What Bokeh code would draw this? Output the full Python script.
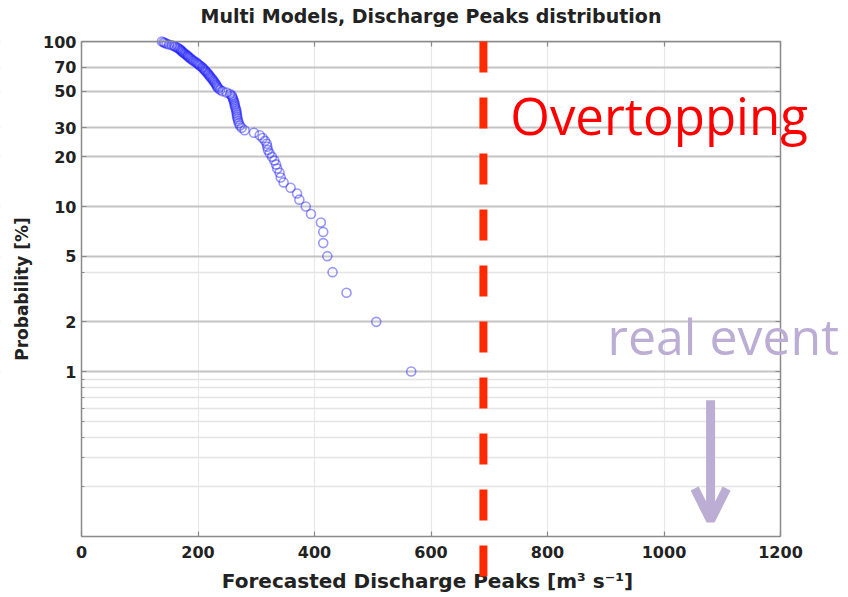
from bokeh.plotting import figure
from bokeh.models import (FixedTicker, LogAxis, LinearAxis, Arrow, OpenHead, Label,
                          Range1d, BoxAnnotation)
from bokeh.embed import file_html
from bokeh.resources import INLINE

# ---- data ----
probability = list(range(100, 0, -1))  # exceedance probability [%]
discharge = [
    138, 141, 143, 146, 150, 155, 159, 161, 164, 166,
    168, 170, 171, 173, 174, 176, 178, 180, 182, 183,
    185, 187, 189, 191, 193, 196, 198, 200, 202, 204,
    207, 208, 210, 212, 213, 215, 217, 218, 220, 221,
    223, 225, 226, 228, 229, 231, 232, 233, 235, 238,
    242, 249, 255, 258, 259, 260, 261, 262, 263, 263,
    264, 265, 266, 266, 267, 267, 268, 269, 270, 272,
    275, 280, 296, 306, 311, 315, 318, 319, 320, 323,
    327, 331, 334, 336, 340, 342, 347, 359, 370, 374,
    385, 394, 411, 415, 415, 422, 431, 455, 506, 566,
]
x_ticks = [0, 200, 400, 600, 800, 1000, 1200]
y_ticks = [1, 2, 5, 10, 20, 30, 50, 70, 100]
y_minor = [0.2, 0.3, 0.4, 0.5, 0.6, 0.7, 0.8, 0.9, 4]
x_lim = (0, 1200)
y_lim = (0.1, 100)
overtopping_q = 690
real_event_q = 1080
arrow_prob_top = 0.67
arrow_prob_tip = 0.125

title_text = "Multi Models, Discharge Peaks distribution"
x_label = "Forecasted Discharge Peaks [m\u00b3 s\u207b\u00b9]"
y_label = "Probability [%]"

# ---- geometry (pixels): the whole canvas is one frame ----
W, H = 847, 596
LEFT, TOP = 81, 41              # where x=0 and y=100 sit on the canvas
PX_PER_UNIT = 699 / 1200.0      # axis 0..1200 spans 699 px
PX_PER_DECADE = 165.0
x_start = -LEFT / PX_PER_UNIT
x_end = (W - LEFT) / PX_PER_UNIT
y_start = 10 ** (2 - (H - TOP) / PX_PER_DECADE)
y_end = 10 ** (2 + TOP / PX_PER_DECADE)

AX = "#8a8a8a"
LAV = "#bbadd3"
FONT = "DejaVu Sans"
TXT = "#222222"

p = figure(width=W, height=H, x_range=Range1d(x_start, x_end), y_range=Range1d(y_start, y_end),
           y_axis_type="log", output_backend="svg", toolbar_location=None,
           min_border_left=0, min_border_right=0, min_border_top=0, min_border_bottom=0)
p.background_fill_color = "white"
p.border_fill_color = "white"
p.outline_line_color = None

yt = FixedTicker(ticks=y_ticks, minor_ticks=y_minor)
xt = FixedTicker(ticks=x_ticks, minor_ticks=[])
p.xgrid.ticker = xt
p.ygrid.ticker = yt
p.ygrid.grid_line_color = "#c4c4c4"
p.ygrid.grid_line_width = 2
p.ygrid.minor_grid_line_color = "#e4e4e4"
p.ygrid.minor_grid_line_width = 1.5
p.xgrid.grid_line_color = "#e8e8e8"
p.xgrid.grid_line_width = 1.2


def style_axis(ax):
    ax.axis_line_color = AX
    ax.axis_line_width = 1.5
    ax.major_tick_line_color = AX
    ax.minor_tick_line_color = AX
    ax.major_tick_line_width = 1.2
    ax.major_tick_in = 5
    ax.major_tick_out = 0
    ax.minor_tick_in = 3
    ax.minor_tick_out = 0
    ax.major_label_text_font = FONT
    ax.major_label_text_font_size = "16px"
    ax.major_label_text_font_style = "bold"
    ax.major_label_text_color = TXT


# left axis (at x = 0)
ya = p.yaxis[0]
style_axis(ya)
ya.ticker = yt
ya.bounds = y_lim
ya.fixed_location = x_lim[0]
ya.major_label_standoff = 5
ya.major_label_overrides = {v: str(v) for v in y_ticks}

# bottom axis (at probability 0.1)
xa = p.xaxis[0]
style_axis(xa)
xa.ticker = xt
xa.bounds = x_lim
xa.fixed_location = y_lim[0]
xa.major_label_standoff = 9

# top and right box edges with inward ticks
top_ax = LinearAxis(ticker=xt, bounds=x_lim, fixed_location=y_lim[1])
style_axis(top_ax)
top_ax.major_label_text_font_size = "0px"
p.add_layout(top_ax, "above")

right_ax = LogAxis(ticker=yt, bounds=y_lim, fixed_location=x_lim[1])
style_axis(right_ax)
right_ax.major_label_text_font_size = "0px"
p.add_layout(right_ax, "right")

# blank out the grid outside the 0..1200 x 0.1..100 box
for kw in (dict(left=x_lim[1]), dict(right=x_lim[0]), dict(top=y_lim[0]), dict(bottom=y_lim[1])):
    p.add_layout(BoxAnnotation(fill_color="white", fill_alpha=1, line_alpha=0, level="underlay", **kw))

p.scatter(discharge, probability, marker="circle", size=9, fill_color=None,
          line_color="#1a1aff", line_alpha=0.45, line_width=1.6)

# titles
p.add_layout(Label(x=600, y=142.7, text=title_text, text_align="center",
                   text_baseline="alphabetic", text_font=FONT, text_font_size="19px",
                   text_font_style="bold", text_color=TXT))
p.add_layout(Label(x=594, y=0.054, text=x_label, text_align="center",
                   text_baseline="alphabetic", text_font=FONT, text_font_size="20px",
                   text_font_style="bold", text_color=TXT))
p.add_layout(Label(x=-103, y=3.16, text=y_label, text_align="center", angle=90, angle_units="deg",
                   text_baseline="middle", text_font=FONT, text_font_size="17px",
                   text_font_style="bold", text_color=TXT))

# overtopping threshold (dashed red line, continues below the axes)
p.add_layout(Arrow(end=None, x_start=overtopping_q, y_start=y_lim[1], x_end=overtopping_q, y_end=0.02,
                   line_color="#ff2a00", line_width=8, line_dash="31 25"))
p.add_layout(Label(x=736, y=36, text="Overtopping", text_color="#ff0000",
                   text_font="Open Sans", text_font_size="51px", text_baseline="alphabetic"))

# real event arrow
p.add_layout(Arrow(end=OpenHead(size=32, line_color=LAV, line_width=9),
                   x_start=real_event_q, y_start=arrow_prob_top, x_end=real_event_q, y_end=arrow_prob_tip,
                   line_color=LAV, line_width=9))
p.add_layout(Label(x=903, y=1.635, text="real event", text_color=LAV,
                   text_font="Open Sans", text_font_size="50px", text_baseline="alphabetic"))

open("out.html", "w").write(file_html(p, INLINE))
